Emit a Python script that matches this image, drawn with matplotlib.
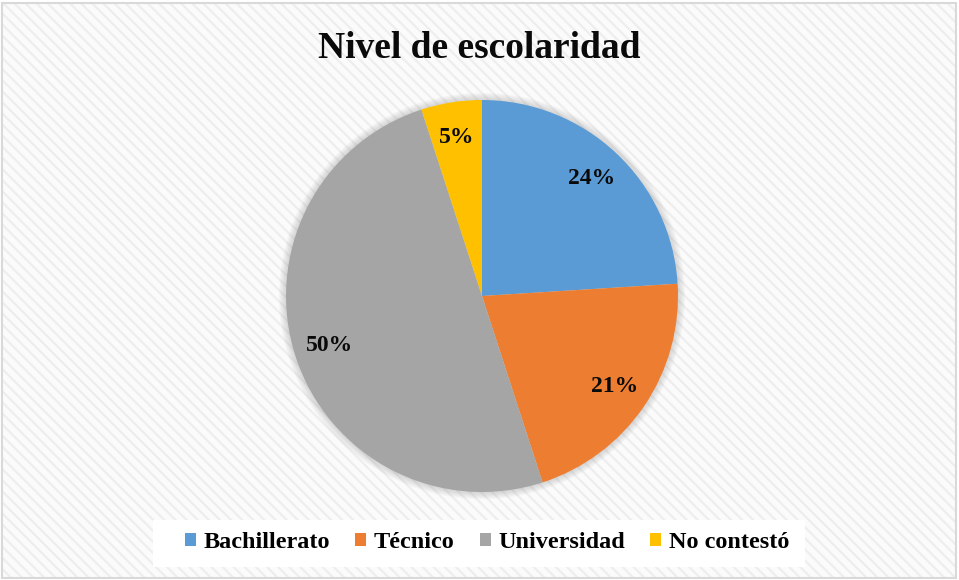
import matplotlib.pyplot as plt
from matplotlib.patches import Rectangle, Circle
import matplotlib as mpl

# %%
labels = ['Bachillerato', 'Técnico', 'Universidad', 'No contestó']
values = [24, 21, 50, 5]
colors = ['#5b9bd5', '#ed7d31', '#a5a5a5', '#ffc000']

mpl.rcParams['font.family'] = 'Liberation Serif'
mpl.rcParams['hatch.linewidth'] = 1.6

W, H = 959, 580
fig = plt.figure(figsize=(W / 100, H / 100), dpi=100)
fig.patch.set_facecolor('white')

# striped background + border
bg = Rectangle((2 / W, 2 / H), (W - 5) / W, (H - 5) / H, transform=fig.transFigure,
               facecolor='#fbfbfb', edgecolor='#eeeeee', hatch='\\\\\\', lw=0, zorder=-3)
fig.patches.append(bg)
border = Rectangle((2 / W, 2 / H), (W - 5) / W, (H - 5) / H, transform=fig.transFigure,
                   facecolor='none', edgecolor='#d9d9d9', lw=1.5, zorder=-2)
fig.patches.append(border)

# legend white band
band = Rectangle((153 / W, (H - 567) / H), 652 / W, 47 / H, transform=fig.transFigure,
                 facecolor='white', edgecolor='none', zorder=-1)
fig.patches.append(band)

# %%
cx, cy, r = 482, 296, 196
ax = fig.add_axes([(cx - 1.1 * r) / W, (H - cy - 1.1 * r) / H, 2.2 * r / W, 2.2 * r / H])
ax.set_zorder(2)
ax.set_facecolor('none')

# soft shadow around the pie
for k in range(6):
    ax.add_patch(Circle((0, 0), 1.0 + 0.006 * (k + 1), facecolor='#808080',
                        edgecolor='none', alpha=0.05, zorder=0))

wedges, texts, autotexts = ax.pie(values, colors=colors, startangle=90, counterclock=False,
                                  autopct='%1.0f%%', pctdistance=0.82,
                                  wedgeprops=dict(linewidth=0, zorder=2),
                                  textprops=dict(fontsize=17, fontweight='bold', color='#0a0a0a'))
ax.set_xlim(-1.1, 1.1)
ax.set_ylim(-1.1, 1.1)
ax.set_aspect('equal')
ax.axis('off')

fig.text(0.5, 1 - 49 / H, 'Nivel de escolaridad', ha='center', va='center',
         fontsize=27, fontweight='bold', color='#0a0a0a')

fig.legend(wedges, labels, loc='center', bbox_to_anchor=(487 / W, 1 - 543 / H),
           ncol=4, frameon=False, handlelength=0.45, handleheight=0.45,
           handletextpad=0.3, columnspacing=1.05,
           prop=dict(weight='bold', size=17.5))

fig.savefig('out.png', dpi=100)
